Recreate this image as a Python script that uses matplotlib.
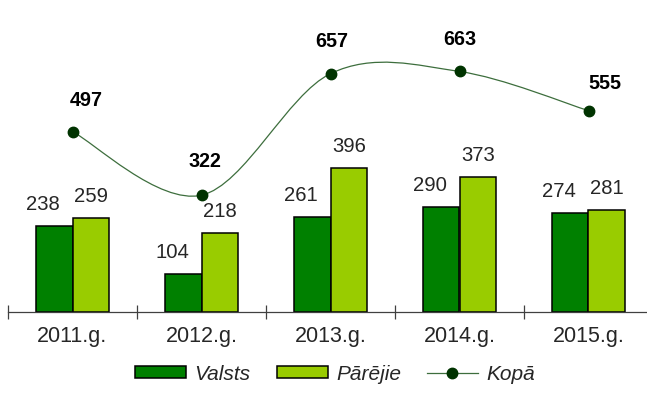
import matplotlib
matplotlib.use('Agg')
import matplotlib.pyplot as plt
from matplotlib.path import Path
from matplotlib.patches import PathPatch
from matplotlib.lines import Line2D
import numpy as np

plt.rcParams['font.family'] = ['Liberation Sans', 'DejaVu Sans']

# dati
years = ['2011.g.', '2012.g.', '2013.g.', '2014.g.', '2015.g.']
valsts = [238, 104, 261, 290, 274]
parejie = [259, 218, 396, 373, 281]
kopa = [497, 322, 657, 663, 555]

# etiķešu nobīdes (pikseļos)
kopa_offsets = [(14, 26), (3, 28), (1, 27), (0, 26), (16, 22)]

C_VALSTS = '#008000'
C_PAREJIE = '#99cc00'
C_LINE = '#3d6e3d'
C_MARK = '#003300'
C_TEXT = '#262626'


def smooth_path(xs, ys):
    """Gluda līkne caur punktiem (Catmull-Rom -> Bezier)"""
    pts = np.column_stack([xs, ys]).astype(float)
    n = len(pts)
    verts = [pts[0]]
    codes = [Path.MOVETO]
    for i in range(n - 1):
        p0 = pts[max(i - 1, 0)]
        p1 = pts[i]
        p2 = pts[i + 1]
        p3 = pts[min(i + 2, n - 1)]
        verts += [p1 + (p2 - p0) / 6, p2 - (p3 - p1) / 6, p2]
        codes += [Path.CURVE4] * 3
    return Path(verts, codes)


fig = plt.figure(figsize=(6.47, 4.05), dpi=100)
ax = fig.add_axes([8 / 647, 93 / 405, 645 / 647, 312 / 405])

x = np.arange(len(years))
w = 0.283
b1 = ax.bar(x - w / 2, valsts, w, color=C_VALSTS, edgecolor='black', linewidth=1.1, zorder=2)
b2 = ax.bar(x + w / 2, parejie, w, color=C_PAREJIE, edgecolor='black', linewidth=1.1, zorder=2)

for xi, v in zip(x, valsts):
    ax.annotate(str(v), (xi - w / 2, v), xytext=(-11, 16), textcoords='offset pixels',
                ha='center', va='baseline', fontsize=14.6, color=C_TEXT)
for xi, v in zip(x, parejie):
    ax.annotate(str(v), (xi + w / 2, v), xytext=(0, 16), textcoords='offset pixels',
                ha='center', va='baseline', fontsize=14.6, color=C_TEXT)

ax.add_patch(PathPatch(smooth_path(x, kopa), fill=False, edgecolor=C_LINE, lw=0.9, zorder=3))
ax.plot(x, kopa, 'o', ms=7.5, color=C_MARK, zorder=4)
for xi, v, off in zip(x, kopa, kopa_offsets):
    ax.annotate(str(v), (xi, v), xytext=off, textcoords='offset pixels',
                ha='center', va='baseline', fontsize=14.2, weight='bold', color='black')

ax.set_xlim(-0.5, 4.5)
ax.set_ylim(0, 860)
ax.set_yticks([])
ax.set_xticks(np.arange(-0.5, 5, 1))
ax.set_xticklabels([])
ax.set_xticks(x, minor=True)
ax.set_xticklabels(years, minor=True, fontsize=15.5, color=C_TEXT)
ax.tick_params(axis='x', which='major', direction='inout', length=10, width=0.9, color='#404040')
ax.tick_params(axis='x', which='minor', length=0, pad=10)
for s in ['top', 'left', 'right']:
    ax.spines[s].set_visible(False)
ax.spines['bottom'].set_color('#404040')
ax.spines['bottom'].set_linewidth(0.9)

line_handle = Line2D([0], [0], color=C_LINE, lw=0.9, marker='o', ms=7.5,
                     markerfacecolor=C_MARK, markeredgecolor=C_MARK)
ax.legend([b1, b2, line_handle], ['Valsts', 'Pārējie', 'Kopā'],
          loc='center', bbox_to_anchor=(335 / 647, 1 - 374 / 405), bbox_transform=fig.transFigure,
          ncol=3, frameon=False, prop={'style': 'italic', 'size': 15},
          handlelength=2.45, handleheight=0.5, handletextpad=0.4, columnspacing=1.25,
          labelcolor=C_TEXT)

fig.savefig('out.png', dpi=100, facecolor='white')
